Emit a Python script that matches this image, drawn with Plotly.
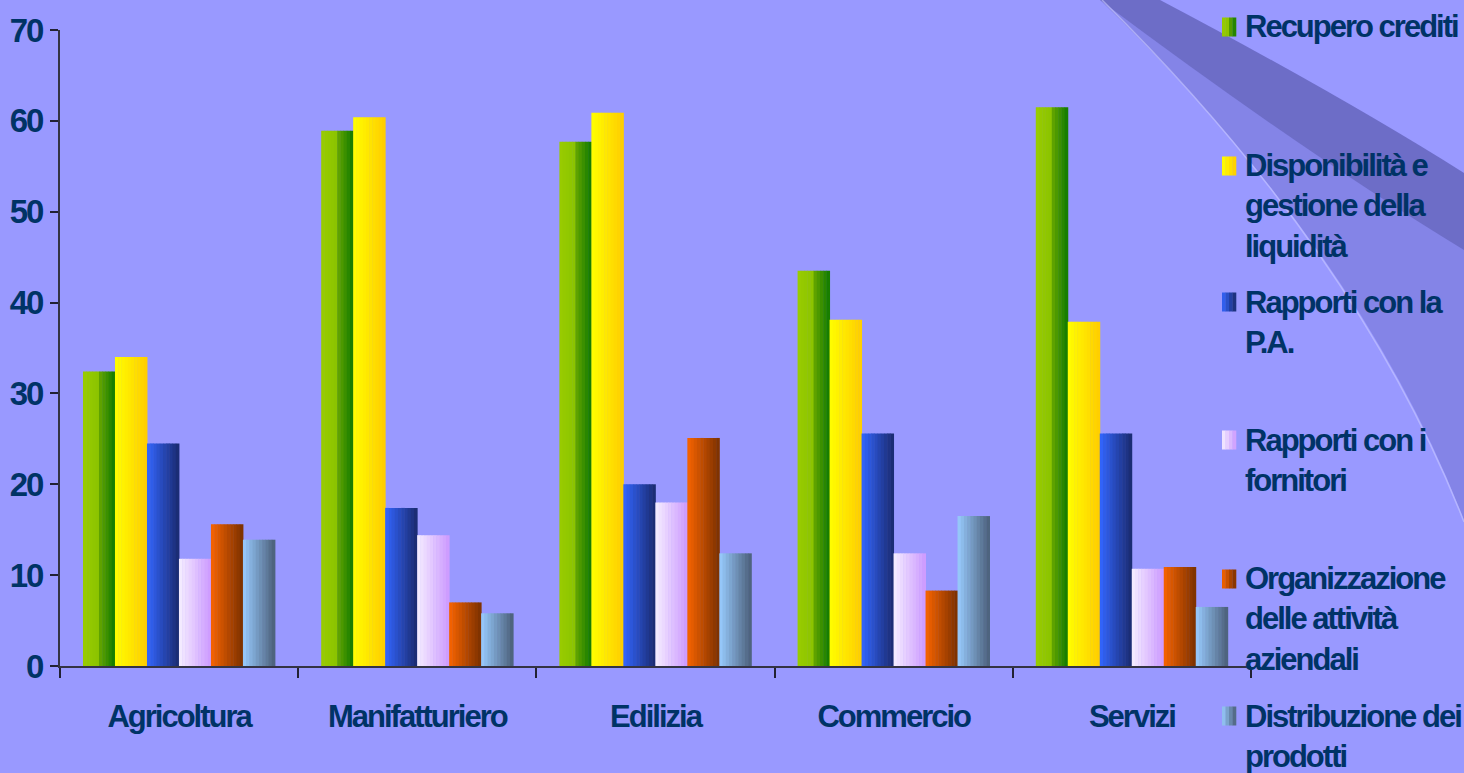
import plotly.graph_objects as go

# ---------------- data ----------------
categories = ["Agricoltura", "Manifatturiero", "Edilizia", "Commercio", "Servizi"]
series_names = [
    "Recupero crediti",
    "Disponibilità e<br>gestione della<br>liquidità",
    "Rapporti con la<br>P.A.",
    "Rapporti con i<br>fornitori",
    "Organizzazione<br>delle attività<br>aziendali",
    "Distribuzione dei<br>prodotti",
]
recupero_crediti = [32.4, 58.9, 57.7, 43.5, 61.5]
disponibilita_liquidita = [34.0, 60.4, 60.9, 38.1, 37.9]
rapporti_pa = [24.5, 17.4, 20.0, 25.6, 25.6]
rapporti_fornitori = [11.8, 14.4, 18.0, 12.4, 10.7]
organizzazione_attivita = [15.6, 7.0, 25.1, 8.3, 10.9]
distribuzione_prodotti = [13.9, 5.8, 12.4, 16.5, 6.5]
y_ticks = [0, 10, 20, 30, 40, 50, 60, 70]

series_values = [recupero_crediti, disponibilita_liquidita, rapporti_pa,
                 rapporti_fornitori, organizzazione_attivita, distribuzione_prodotti]

# ---------------- styles ----------------
gradients = [
    [(0.0, (153, 204, 0)), (0.45, (140, 196, 0)), (0.55, (94, 162, 0)), (1.0, (15, 122, 0))],
    [(0.0, (255, 255, 0)), (1.0, (255, 204, 0))],
    [(0.0, (51, 102, 255)), (1.0, (26, 42, 110))],
    [(0.0, (245, 238, 255)), (1.0, (204, 153, 255))],
    [(0.0, (248, 100, 0)), (1.0, (122, 48, 0))],
    [(0.0, (153, 204, 255)), (1.0, (74, 94, 120))],
]
BG = "#9999FF"
TXT = "#003366"
FONT = "Liberation Sans, Arial, sans-serif"
TIGHT = '<span style="letter-spacing:-2px">%s</span>'

W, H = 1464, 773
L, R, T, B = 60, 1251, 30, 666


def interp(stops, t):
    for (t0, c0), (t1, c1) in zip(stops[:-1], stops[1:]):
        if t0 <= t <= t1:
            f = 0 if t1 == t0 else (t - t0) / (t1 - t0)
            c = [round(a + (b - a) * f) for a, b in zip(c0, c1)]
            return "rgb(%d,%d,%d)" % tuple(c)
    return "rgb(%d,%d,%d)" % stops[-1][1]


def px(xp):
    return (xp - L) / (R - L)


def py(yp):
    return (B - yp) / (B - T)


def tight(s):
    return "<br>".join(TIGHT % part for part in s.split("<br>"))


fig = go.Figure()

K = 10
bar_w = 0.1343
start = -0.4035
for s, (vals, grad) in enumerate(zip(series_values, gradients)):
    for k in range(K):
        col = interp(grad, (k + 0.5) / K)
        fig.add_trace(go.Bar(
            x=categories, y=vals,
            width=bar_w / K + 0.002,
            offset=start + s * bar_w + k * bar_w / K,
            marker=dict(color=col, line=dict(width=0)),
            showlegend=False,
            hoverinfo="x+y",
        ))

# ---------------- decorative swoosh ----------------
shapes = []


def P(x, y):
    return "%.5f,%.5f" % (px(x), py(y))


# whole swoosh body (medium shade)
shapes.append(dict(
    type="path", xref="paper", yref="paper", layer="below",
    path="M %s L %s Q %s %s L %s Q %s %s Z" % (
        P(1100, 0), P(1160, 0), P(1340, 95), P(1464, 173), P(1464, 520),
        P(1360, 250), P(1100, 0)),
    fillcolor="rgba(80,80,170,0.28)", line=dict(width=0),
))
# darker band along the upper edge
shapes.append(dict(
    type="path", xref="paper", yref="paper", layer="below",
    path="M %s L %s Q %s %s L %s Q %s %s Z" % (
        P(1100, 0), P(1160, 0), P(1340, 95), P(1464, 173), P(1464, 250),
        P(1300, 150), P(1100, 0)),
    fillcolor="rgba(50,50,120,0.28)", line=dict(width=0),
))
# light rim
shapes.append(dict(
    type="path", xref="paper", yref="paper", layer="below",
    path="M %s Q %s %s" % (P(1102, 0), P(1358, 252), P(1464, 522)),
    line=dict(color="rgba(200,200,255,0.6)", width=1.5),
))

# ---------------- legend (manual) ----------------
first_line_y = [27, 166, 302, 440, 579, 716]
line_h = 40.3
annotations = []
for name, grad, cy in zip(series_names, gradients, first_line_y):
    n = name.count("<br>") + 1
    center = cy + (n - 1) * line_h / 2
    annotations.append(dict(
        text="<b>%s</b>" % tight(name), xref="paper", yref="paper",
        x=px(1243), y=py(center), xanchor="left", yanchor="middle",
        align="left", showarrow=False,
        font=dict(family=FONT, size=31, color=TXT),
    ))
    ks = 4
    for k in range(ks):
        x0 = 1222 + k * 14 / ks
        shapes.append(dict(
            type="rect", xref="paper", yref="paper",
            x0=px(x0), x1=px(x0 + 14 / ks + 0.3), y0=py(cy - 9.5), y1=py(cy + 9.5),
            fillcolor=interp(grad, (k + 0.5) / ks), line=dict(width=0),
        ))

fig.update_layout(
    width=W, height=H,
    paper_bgcolor=BG, plot_bgcolor="rgba(0,0,0,0)",
    margin=dict(l=L, r=W - R, t=T, b=H - B, pad=0),
    barmode="overlay",
    shapes=shapes,
    annotations=annotations,
    font=dict(family=FONT, color=TXT),
    xaxis=dict(
        type="category", range=[-0.5, len(categories) - 0.5],
        tickvals=categories, ticktext=[tight(c) for c in categories],
        showline=True, linecolor="#333344", linewidth=2,
        ticks="outside", tickson="boundaries", ticklen=10, tickwidth=2, tickcolor="#222233",
        showgrid=False, zeroline=False, automargin=False,
        tickfont=dict(family=FONT, size=31, color=TXT, weight="bold"),
        ticklabelstandoff=22,
    ),
    yaxis=dict(
        range=[0, 70], tickvals=y_ticks, ticktext=[tight(str(v)) for v in y_ticks],
        showline=True, linecolor="#333344", linewidth=2,
        ticks="outside", ticklen=8, tickwidth=2, tickcolor="#222233",
        showgrid=False, zeroline=False, automargin=False,
        tickfont=dict(family=FONT, size=33, color=TXT, weight="bold"),
        ticklabelstandoff=1,
    ),
)

fig.write_html(
    "out.html",
    config={"displayModeBar": False},
    post_script="document.body.style.margin='0';document.body.style.overflow='hidden';",
)
